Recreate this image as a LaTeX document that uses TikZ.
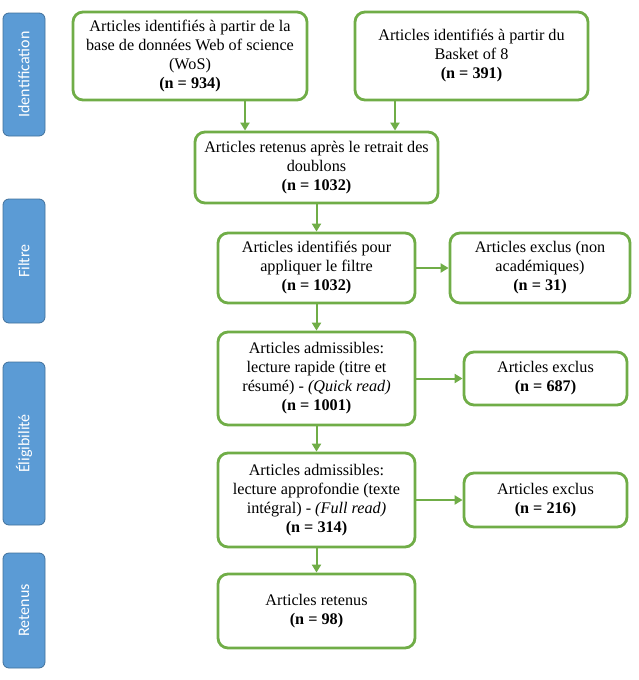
\documentclass[tikz,border=0pt]{standalone}
\usepackage{fontspec}
\setmainfont{Liberation Serif}
\newfontfamily\labfont{Carlito}
\usetikzlibrary{arrows.meta}
\definecolor{grn}{HTML}{70AD47}
\definecolor{blu}{HTML}{5B9BD5}
\definecolor{bluD}{HTML}{41719C}
\begin{document}
\begin{tikzpicture}[x=1pt,y=-1pt,
  box/.style={draw=grn, line width=2.8pt, rounded corners=10pt, fill=white, align=center,
    font=\fontsize{16.2}{19}\selectfont, inner sep=0pt},
  side/.style={draw=bluD, line width=0.8pt, fill=blu, rounded corners=6pt, text=white,
    font=\labfont\fontsize{16}{19}\selectfont, rotate=90, inner sep=0pt, minimum height=42pt},
  arr/.style={draw=grn, line width=2pt, -{Triangle[length=8pt,width=9pt]}}]
\useasboundingbox (0,0) rectangle (638,680);

% side labels
\node[side, minimum width=123pt] (sid) at (24,74.5) {Identification};
\node[side, minimum width=124pt] (sfi) at (24,261) {Filtre};
\node[side, minimum width=163pt] (sel) at (24,443.5) {Éligibilité};
\node[side, minimum width=115pt] (sre) at (24,610.5) {Retenus};

% boxes
\node[box, minimum width=234pt, minimum height=88pt] (wos) at (190,56)
  {Articles identifiés à partir de la\\base de données Web of science\\(WoS)\\\textbf{(n = 934)}};
\node[box, minimum width=233pt, minimum height=88pt] (bask) at (471.5,56)
  {Articles identifiés à partir du\\Basket of 8\\\textbf{(n = 391)}};
\node[box, minimum width=243pt, minimum height=71pt] (dbl) at (316.5,167.5)
  {Articles retenus après le retrait des\\doublons\\\textbf{(n = 1032)}};
\node[box, minimum width=197pt, minimum height=70pt] (filt) at (316.5,268)
  {Articles identifiés pour\\appliquer le filtre\\\textbf{(n = 1032)}};
\node[box, minimum width=180pt, minimum height=70pt] (nonac) at (540,268)
  {Articles exclus (non\\académiques)\\\textbf{(n = 31)}};
\node[box, minimum width=197pt, minimum height=93pt] (quick) at (316.5,378.5)
  {Articles admissibles:\\lecture rapide (titre et\\résumé) - \textit{(Quick read)}\\\textbf{(n = 1001)}};
\node[box, minimum width=163pt, minimum height=53pt] (ex1) at (545.5,378.5)
  {Articles exclus\\\textbf{(n = 687)}};
\node[box, minimum width=197pt, minimum height=94pt] (full) at (316.5,500)
  {Articles admissibles:\\lecture approfondie (texte\\intégral) - \textit{(Full read)}\\\textbf{(n = 314)}};
\node[box, minimum width=163pt, minimum height=54pt] (ex2) at (545.5,500)
  {Articles exclus\\\textbf{(n = 216)}};
\node[box, minimum width=197pt, minimum height=74pt] (ret) at (316.5,611)
  {Articles retenus\\\textbf{(n = 98)}};

% connectors
\draw[arr] ([xshift=55pt]wos.south) -- ([xshift=55pt]wos.south |- dbl.north);
\draw[arr] ([xshift=-76.5pt]bask.south) -- ([xshift=-76.5pt]bask.south |- dbl.north);
\draw[arr] (dbl.south) -- (filt.north);
\draw[arr] (filt.east) -- (nonac.west);
\draw[arr] (filt.south) -- (quick.north);
\draw[arr] (quick.east) -- (ex1.west);
\draw[arr] (quick.south) -- (full.north);
\draw[arr] (full.east) -- (ex2.west);
\draw[arr] (full.south) -- (ret.north);
\end{tikzpicture}
\end{document}
